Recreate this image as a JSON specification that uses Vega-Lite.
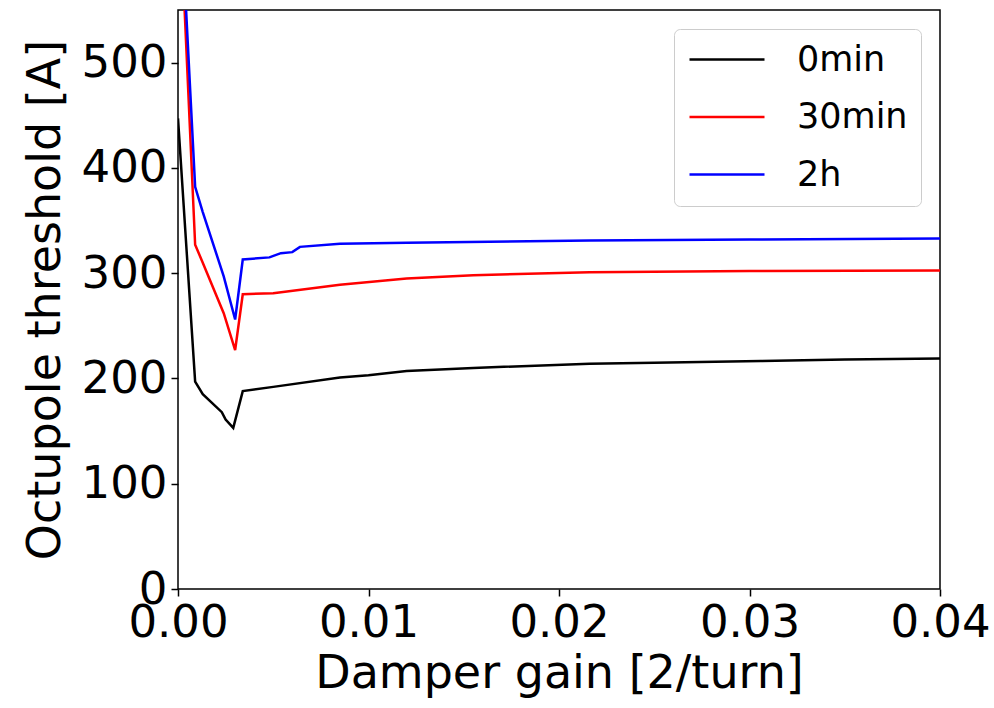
{
  "$schema": "https://vega.github.io/schema/vega-lite/v6.json",
  "width": 762,
  "height": 579,
  "autosize": {"type": "none"},
  "padding": {"left": 178, "top": 10, "right": 54, "bottom": 119},
  "background": "white",
  "config": {
    "font": "DejaVu Sans",
    "view": {"stroke": "black", "strokeWidth": 1.5},
    "axis": {
      "grid": false,
      "domain": false,
      "labelFontSize": 45,
      "titleFontSize": 46,
      "titleFontWeight": "normal",
      "labelColor": "black",
      "titleColor": "black",
      "tickColor": "black",
      "tickSize": 7,
      "tickWidth": 1.5,
      "labelPadding": 4,
      "labelFlush": false,
      "labelOverlap": false
    }
  },
  "data": {
    "values": [
      {"x": 0, "y": 447, "s": "0min"},
      {"x": 0.0009, "y": 197, "s": "0min"},
      {"x": 0.0013, "y": 185, "s": "0min"},
      {"x": 0.0023, "y": 168, "s": "0min"},
      {"x": 0.0025, "y": 161, "s": "0min"},
      {"x": 0.0029, "y": 153, "s": "0min"},
      {"x": 0.0034, "y": 188, "s": "0min"},
      {"x": 0.005, "y": 192, "s": "0min"},
      {"x": 0.0085, "y": 201, "s": "0min"},
      {"x": 0.01, "y": 203, "s": "0min"},
      {"x": 0.012, "y": 207, "s": "0min"},
      {"x": 0.0155, "y": 210, "s": "0min"},
      {"x": 0.0216, "y": 214, "s": "0min"},
      {"x": 0.025, "y": 215, "s": "0min"},
      {"x": 0.0306, "y": 216.5, "s": "0min"},
      {"x": 0.035, "y": 218, "s": "0min"},
      {"x": 0.04, "y": 219, "s": "0min"},
      {"x": 0, "y": 690, "s": "30min"},
      {"x": 0.0009, "y": 327, "s": "30min"},
      {"x": 0.0013, "y": 310, "s": "30min"},
      {"x": 0.0024, "y": 262, "s": "30min"},
      {"x": 0.003, "y": 227, "s": "30min"},
      {"x": 0.0034, "y": 280, "s": "30min"},
      {"x": 0.005, "y": 281, "s": "30min"},
      {"x": 0.0085, "y": 289, "s": "30min"},
      {"x": 0.012, "y": 295, "s": "30min"},
      {"x": 0.0155, "y": 298, "s": "30min"},
      {"x": 0.0216, "y": 301, "s": "30min"},
      {"x": 0.03, "y": 302, "s": "30min"},
      {"x": 0.04, "y": 302.5, "s": "30min"},
      {"x": 0, "y": 700, "s": "2h"},
      {"x": 0.0009, "y": 382, "s": "2h"},
      {"x": 0.0013, "y": 358, "s": "2h"},
      {"x": 0.0024, "y": 297, "s": "2h"},
      {"x": 0.003, "y": 256, "s": "2h"},
      {"x": 0.0034, "y": 313, "s": "2h"},
      {"x": 0.0048, "y": 315, "s": "2h"},
      {"x": 0.0054, "y": 319, "s": "2h"},
      {"x": 0.006, "y": 320, "s": "2h"},
      {"x": 0.0064, "y": 325, "s": "2h"},
      {"x": 0.0085, "y": 328, "s": "2h"},
      {"x": 0.012, "y": 329, "s": "2h"},
      {"x": 0.0216, "y": 331, "s": "2h"},
      {"x": 0.03, "y": 332, "s": "2h"},
      {"x": 0.04, "y": 333, "s": "2h"}
    ]
  },
  "mark": {"type": "line", "clip": true, "strokeWidth": 2.5},
  "encoding": {
    "x": {
      "field": "x",
      "type": "quantitative",
      "scale": {"domain": [0, 0.04], "nice": false, "zero": false},
      "axis": {"values": [0, 0.01, 0.02, 0.03, 0.04], "format": ".2f", "title": "Damper gain [2/turn]", "titlePadding": 6}
    },
    "y": {
      "field": "y",
      "type": "quantitative",
      "scale": {"domain": [0, 550], "nice": false},
      "axis": {"values": [0, 100, 200, 300, 400, 500], "title": "Octupole threshold [A]", "titlePadding": 12}
    },
    "color": {
      "field": "s",
      "type": "nominal",
      "sort": ["0min", "30min", "2h"],
      "scale": {"domain": ["0min", "30min", "2h"], "range": ["#000000", "#ff0000", "#0000ff"]},
      "legend": {
        "title": null,
        "orient": "none",
        "legendX": 496,
        "legendY": 19,
        "fillColor": "white",
        "strokeColor": "#cccccc",
        "cornerRadius": 6,
        "padding": 13,
        "labelFontSize": 35,
        "labelColor": "black",
        "symbolType": "M-2.5,0H2.5",
        "symbolSize": 900,
        "symbolStrokeWidth": 2.5,
        "symbolOffset": 22.5,
        "labelOffset": 52.5,
        "rowPadding": 21.5
      }
    }
  }
}
